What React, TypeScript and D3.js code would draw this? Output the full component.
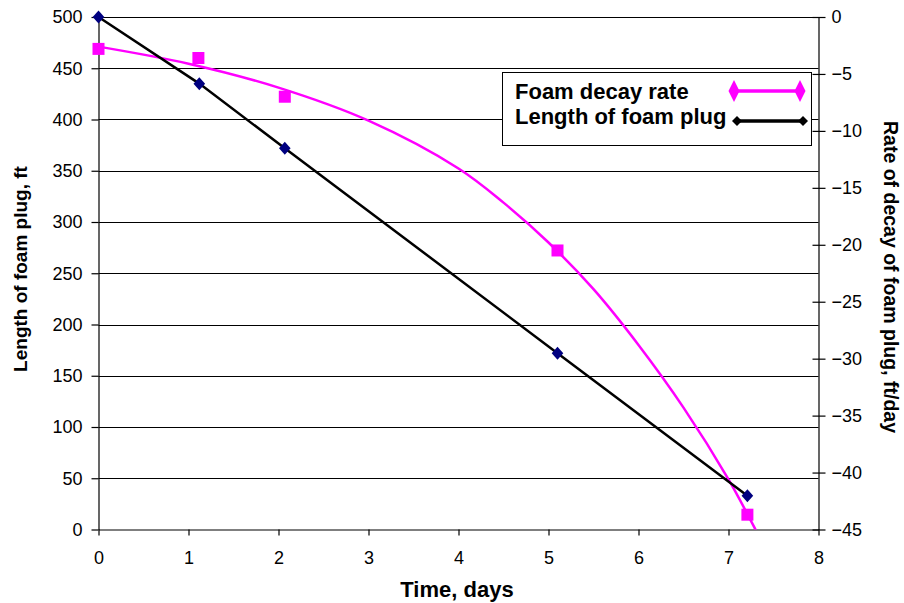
import { useRef, useEffect } from "react";
import * as d3 from "d3";

// Measured points: time (days) vs plug length (ft)
const lengthDays = [0, 1.12, 2.07, 5.1, 7.21];
const lengthFt = [500, 435, 372, 172, 33];

// Measured decay rate (ft/day)
const rateDays = [0, 1.11, 2.07, 5.1, 7.21];
const rateFtDay = [-2.8, -3.6, -7.0, -20.5, -43.7];

// Trendline of decay rate
const trendDays = [0, 1, 2, 3, 4, 4.5, 5, 5.5, 6, 6.5, 7, 7.3, 7.4];
const trendRate = [-2.6, -4.1, -6.2, -9.1, -13.3, -16.3, -19.8, -23.9, -28.8, -34.3, -40.6, -45, -46.5];

const xTicks = [0, 1, 2, 3, 4, 5, 6, 7, 8];
const leftTicks = [0, 50, 100, 150, 200, 250, 300, 350, 400, 450, 500];
const rightTicks = [0, -5, -10, -15, -20, -25, -30, -35, -40, -45];

const W = 904;
const H = 603;
const FONT = "'Liberation Sans', Arial, Helvetica, sans-serif";
const MAGENTA = "#ff00ff";
const NAVY = "#000080";

export default function App() {
  const svgRef = useRef<SVGSVGElement>(null);

  useEffect(() => {
    if (!svgRef.current) return;
    const margin = { top: 17, right: 85.5, bottom: 73.5, left: 98.5 };
    const innerW = W - margin.left - margin.right;
    const innerH = H - margin.top - margin.bottom;

    const svg = d3.select(svgRef.current);
    svg.selectAll("*").remove();

    const g = svg.append("g").attr("transform", `translate(${margin.left},${margin.top})`);

    const x = d3.scaleLinear().domain([0, 8]).range([0, innerW]);
    const yL = d3.scaleLinear().domain([0, 500]).range([innerH, 0]);
    const yR = d3.scaleLinear().domain([-45, 0]).range([innerH, 0]);

    svg
      .append("defs")
      .append("clipPath")
      .attr("id", "plot-clip")
      .append("rect")
      .attr("x", 0)
      .attr("y", -2)
      .attr("width", innerW)
      .attr("height", innerH + 2);

    // Gridlines
    g.append("g")
      .selectAll("line")
      .data(leftTicks.filter((t) => t > 0))
      .join("line")
      .attr("x1", 0)
      .attr("x2", innerW)
      .attr("y1", (d) => Math.round(yL(d)) + 0.5)
      .attr("y2", (d) => Math.round(yL(d)) + 0.5)
      .attr("stroke", "#000")
      .attr("stroke-width", 1);

    // Axes
    const styleAxis = (sel: d3.Selection<SVGGElement, unknown, null, undefined>) => {
      sel.select(".domain").attr("stroke", "#000").attr("stroke-width", 1.2);
      sel.selectAll(".tick line").attr("stroke", "#000").attr("stroke-width", 1.2);
      sel
        .selectAll(".tick text")
        .attr("fill", "#000")
        .style("font-family", FONT)
        .style("font-size", "18px");
    };

    const xAxis = g
      .append("g")
      .attr("transform", `translate(0,${innerH})`)
      .call(d3.axisBottom(x).tickValues(xTicks).tickFormat(d3.format("d")).tickSize(6).tickSizeOuter(0).tickPadding(16));
    styleAxis(xAxis);

    const leftAxis = g
      .append("g")
      .call(d3.axisLeft(yL).tickValues(leftTicks).tickFormat(d3.format("d")).tickSize(7).tickSizeOuter(0).tickPadding(9));
    styleAxis(leftAxis);

    const rightAxis = g
      .append("g")
      .attr("transform", `translate(${innerW},0)`)
      .call(d3.axisRight(yR).tickValues(rightTicks).tickFormat(d3.format("d")).tickSize(7).tickSizeOuter(0).tickPadding(6));
    styleAxis(rightAxis);
    // right ticks cross the axis
    rightAxis.selectAll(".tick line").attr("x1", -6);

    // Decay rate trendline
    const trend = trendDays.map((d, i) => [d, trendRate[i]] as [number, number]);
    g.append("path")
      .datum(trend)
      .attr("clip-path", "url(#plot-clip)")
      .attr("fill", "none")
      .attr("stroke", MAGENTA)
      .attr("stroke-width", 2.5)
      .attr(
        "d",
        d3
          .line<[number, number]>()
          .x((d) => x(d[0]))
          .y((d) => yR(d[1]))
          .curve(d3.curveCatmullRom)
      );

    // Length line
    const lenPts = lengthDays.map((d, i) => [d, lengthFt[i]] as [number, number]);
    g.append("path")
      .datum(lenPts)
      .attr("fill", "none")
      .attr("stroke", "#000")
      .attr("stroke-width", 2.5)
      .attr(
        "d",
        d3
          .line<[number, number]>()
          .x((d) => x(d[0]))
          .y((d) => yL(d[1]))
      );

    // Rate squares
    g.selectAll(".sq")
      .data(rateDays.map((d, i) => [d, rateFtDay[i]]))
      .join("rect")
      .attr("x", (d) => x(d[0]) - 6)
      .attr("y", (d) => yR(d[1]) - 6)
      .attr("width", 12)
      .attr("height", 12)
      .attr("fill", MAGENTA);

    // Length diamonds
    const diamond = "M0,-6.5L5.8,0L0,6.5L-5.8,0Z";
    g.selectAll(".dm")
      .data(lenPts)
      .join("path")
      .attr("d", diamond)
      .attr("transform", (d) => `translate(${x(d[0])},${yL(d[1])})`)
      .attr("fill", NAVY);

    // Legend
    const lg = svg.append("g").attr("transform", "translate(502,72)");
    lg.append("rect")
      .attr("x", 0.5)
      .attr("y", 0.5)
      .attr("width", 309)
      .attr("height", 73)
      .attr("fill", "#fff")
      .attr("stroke", "#000")
      .attr("stroke-width", 1);
    const items = [
      { label: "Foam decay rate", color: MAGENTA, mark: "M0,-11L5.5,0L0,11L-5.5,0Z", dy: 19, base: 27, x0: 232, x1: 298 },
      { label: "Length of foam plug", color: "#000", mark: "M0,-5L5,0L0,5L-5,0Z", dy: 49, base: 51.5, x0: 235, x1: 301 },
    ];
    items.forEach((it) => {
      lg.append("text")
        .attr("x", 13)
        .attr("y", it.base)
        .style("font-family", FONT)
        .style("font-size", "22px")
        .style("font-weight", "bold")
        .text(it.label);
      lg.append("line")
        .attr("x1", it.x0)
        .attr("x2", it.x1)
        .attr("y1", it.dy)
        .attr("y2", it.dy)
        .attr("stroke", it.color)
        .attr("stroke-width", 3.5);
      [it.x0, it.x1].forEach((px) => {
        lg.append("path").attr("d", it.mark).attr("transform", `translate(${px},${it.dy})`).attr("fill", it.color);
      });
    });

    // Axis titles
    svg
      .append("text")
      .attr("transform", `translate(27,269) rotate(-90)`)
      .attr("text-anchor", "middle")
      .style("font-family", FONT)
      .style("font-size", "19px")
      .style("font-weight", "bold")
      .text("Length of foam plug, ft");

    svg
      .append("text")
      .attr("transform", `translate(884,277) rotate(90)`)
      .attr("text-anchor", "middle")
      .style("font-family", FONT)
      .style("font-size", "19.5px")
      .style("font-weight", "bold")
      .text("Rate of decay of foam plug, ft/day");

    svg
      .append("text")
      .attr("x", 457)
      .attr("y", 596.5)
      .attr("text-anchor", "middle")
      .style("font-family", FONT)
      .style("font-size", "22px")
      .style("font-weight", "bold")
      .text("Time, days");
  }, []);

  return (
    <svg
      ref={svgRef}
      width={W}
      height={H}
      style={{ position: "absolute", left: 0, top: 0, background: "#fff" }}
    />
  );
}
